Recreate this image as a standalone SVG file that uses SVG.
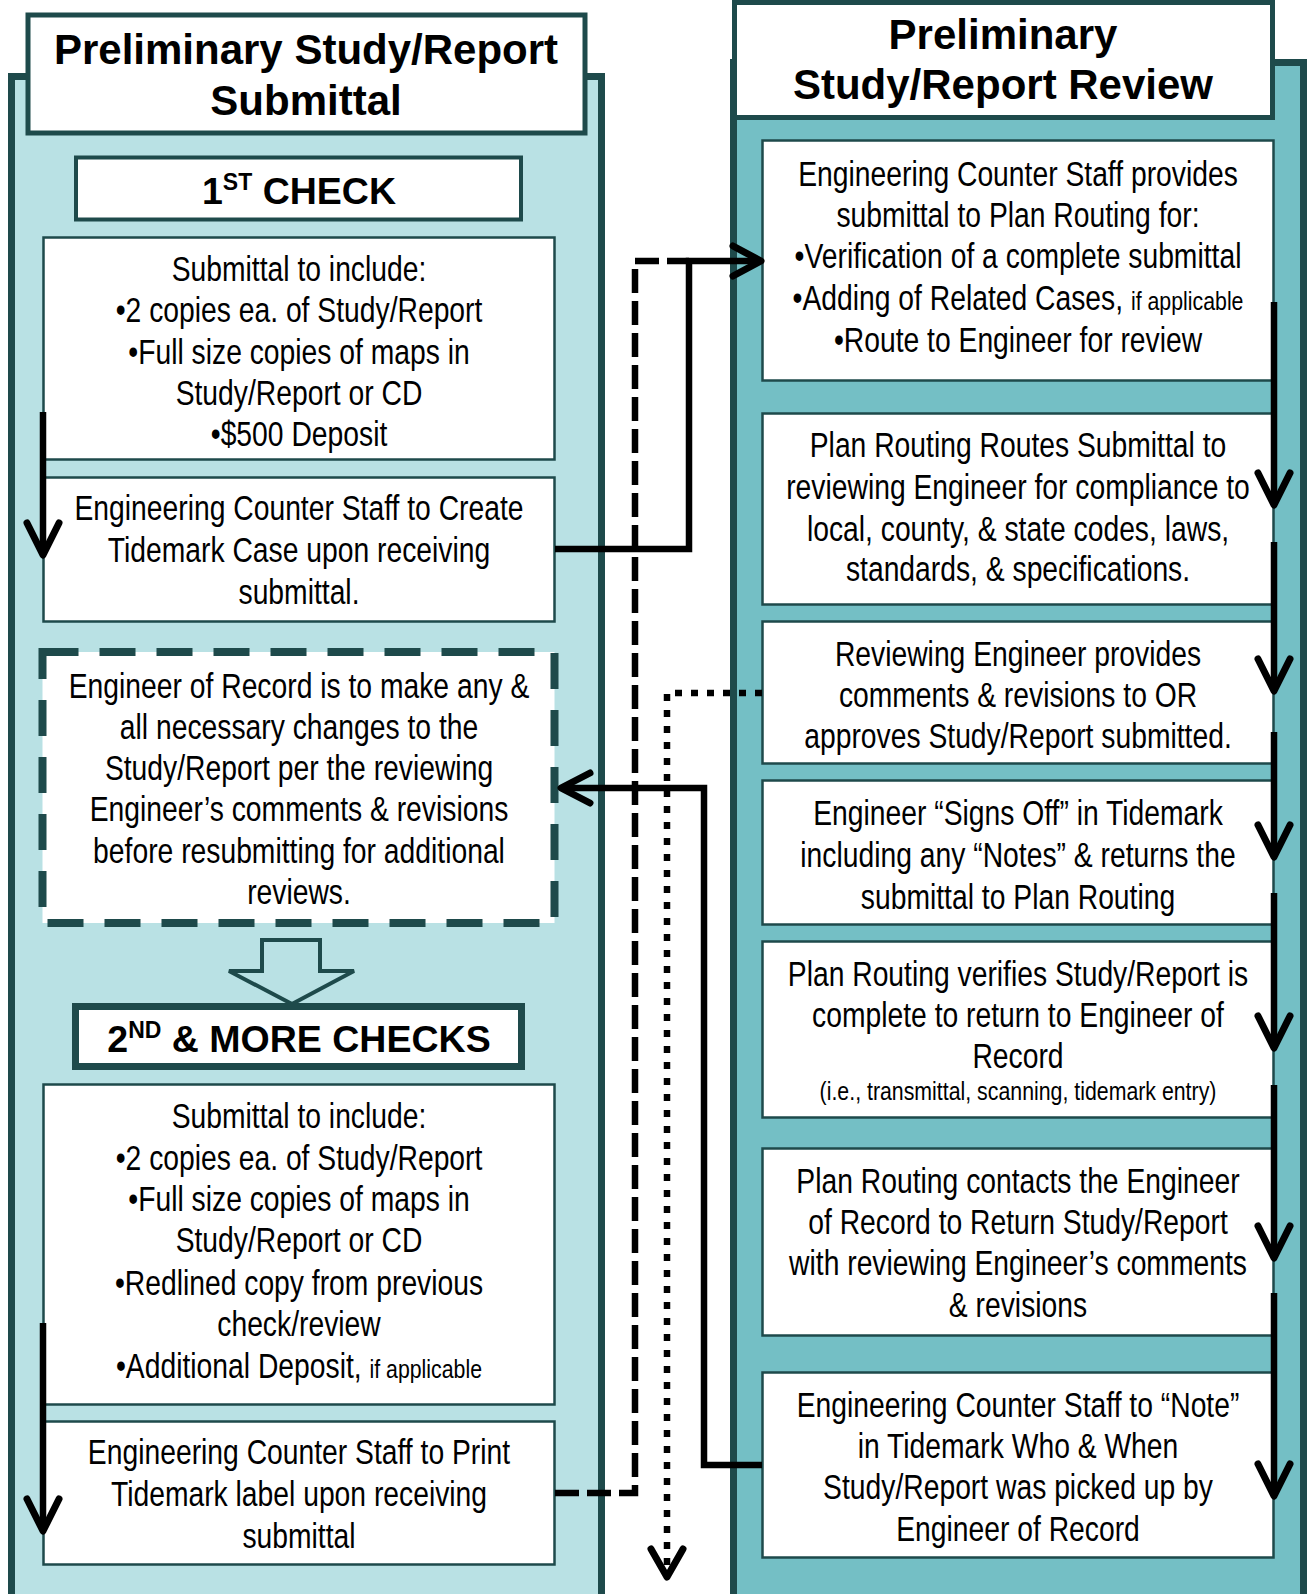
<svg xmlns="http://www.w3.org/2000/svg" width="1307" height="1594" viewBox="0 0 1307 1594">
<defs>
<style>
.t{font-family:"Liberation Sans",Arial,sans-serif;font-size:34.5px;fill:#000;text-anchor:middle}
.s{font-size:26px}
.h{font-family:"Liberation Sans",Arial,sans-serif;font-weight:bold;font-size:42px;fill:#000;text-anchor:middle}
.c{font-family:"Liberation Sans",Arial,sans-serif;font-weight:bold;font-size:37.5px;fill:#000;text-anchor:middle}
.sup{font-size:23px}
.box{fill:#fff;stroke:#1e4a4b;stroke-width:2.5}
.ttl{fill:#fff;stroke:#1e4a4b;stroke-width:5}
.ln{fill:none;stroke:#000;stroke-width:6.5}
.hd{fill:none;stroke:#000;stroke-width:7;stroke-linecap:round;stroke-linejoin:round}
</style>
</defs>
<rect x="0" y="0" width="1307" height="1594" fill="#fff"/>

<g id="left-panel">
<rect x="11.5" y="76.5" width="590" height="1530" fill="#b9e1e4" stroke="#1e4a4b" stroke-width="7"/>
</g>
<g id="right-panel">
<rect x="733.5" y="62.5" width="570" height="1545" fill="#74bfc5" stroke="#1e4a4b" stroke-width="7"/>
</g>

<g id="left-title">
<rect class="ttl" x="28" y="15" width="557" height="118"/>
<text class="h" x="306" y="64">Preliminary Study/Report</text>
<text class="h" x="306" y="115">Submittal</text>
</g>

<g id="right-title">
<rect class="ttl" x="734.5" y="2.5" width="538" height="115"/>
<text class="h" x="1003" y="49">Preliminary</text>
<text class="h" x="1003" y="99">Study/Report Review</text>
</g>

<g id="first-check">
<rect x="76" y="157.5" width="445" height="62" fill="#fff" stroke="#1e4a4b" stroke-width="4"/>
<text class="c" x="299" y="204">1<tspan class="sup" dy="-14">ST</tspan><tspan dy="14"> CHECK</tspan></text>
</g>

<g id="submittal-1">
<rect class="box" x="43.5" y="237.5" width="511" height="222"/>
<g transform="translate(299 0) scale(0.82 1)">
<text class="t" x="0" y="281.5">Submittal to include:</text>
<text class="t" x="0" y="322.5">•2 copies ea. of Study/Report</text>
<text class="t" x="0" y="363.7">•Full size copies of maps in</text>
<text class="t" x="0" y="404.9">Study/Report or CD</text>
<text class="t" x="0" y="446">•$500 Deposit</text>
</g>
</g>

<g id="create-case">
<rect class="box" x="43.5" y="477.5" width="511" height="144"/>
<g transform="translate(299 0) scale(0.82 1)">
<text class="t" x="0" y="520">Engineering Counter Staff to Create</text>
<text class="t" x="0" y="562">Tidemark Case upon receiving</text>
<text class="t" x="0" y="604">submittal.</text>
</g>
</g>

<g id="engineer-changes">
<rect x="42.5" y="652" width="512" height="271" fill="#fff" stroke="#1e4a4b" stroke-width="8" stroke-dasharray="36 21"/>
<g transform="translate(299 0) scale(0.82 1)">
<text class="t" x="0" y="698">Engineer of Record is to make any &amp;</text>
<text class="t" x="0" y="739">all necessary changes to the</text>
<text class="t" x="0" y="780">Study/Report per the reviewing</text>
<text class="t" x="0" y="821">Engineer’s comments &amp; revisions</text>
<text class="t" x="0" y="863">before resubmitting for additional</text>
<text class="t" x="0" y="904">reviews.</text>
</g>
</g>

<g id="block-arrow">
<path d="M262,940 H320 V971 H354 L292,1004 L229,971 H262 Z" fill="#b9e1e4" stroke="#1e4a4b" stroke-width="4"/>
</g>

<g id="second-check">
<rect x="75.5" y="1006.5" width="446" height="60" fill="#fff" stroke="#1e4a4b" stroke-width="7"/>
<text class="c" x="299" y="1052">2<tspan class="sup" dy="-14">ND</tspan><tspan dy="14"> &amp; MORE CHECKS</tspan></text>
</g>

<g id="submittal-2">
<rect class="box" x="43.5" y="1084.5" width="511" height="320"/>
<g transform="translate(299 0) scale(0.82 1)">
<text class="t" x="0" y="1128">Submittal to include:</text>
<text class="t" x="0" y="1170">•2 copies ea. of Study/Report</text>
<text class="t" x="0" y="1211">•Full size copies of maps in</text>
<text class="t" x="0" y="1252">Study/Report or CD</text>
<text class="t" x="0" y="1295">•Redlined copy from previous</text>
<text class="t" x="0" y="1336">check/review</text>
<text class="t" x="0" y="1378">•Additional Deposit, <tspan class="s">if applicable</tspan></text>
</g>
</g>

<g id="print-label">
<rect class="box" x="43.5" y="1421.5" width="511" height="143"/>
<g transform="translate(299 0) scale(0.82 1)">
<text class="t" x="0" y="1464.5">Engineering Counter Staff to Print</text>
<text class="t" x="0" y="1506">Tidemark label upon receiving</text>
<text class="t" x="0" y="1548">submittal</text>
</g>
</g>

<g id="r1">
<rect class="box" x="762.5" y="140.5" width="511" height="240"/>
<g transform="translate(1018 0) scale(0.82 1)">
<text class="t" x="0" y="186">Engineering Counter Staff provides</text>
<text class="t" x="0" y="227">submittal to Plan Routing for:</text>
<text class="t" x="0" y="268">•Verification of a complete submittal</text>
<text class="t" x="0" y="310">•Adding of Related Cases, <tspan class="s">if applicable</tspan></text>
<text class="t" x="0" y="352">•Route to Engineer for review</text>
</g>
</g>

<g id="r2">
<rect class="box" x="762.5" y="413.5" width="511" height="191"/>
<g transform="translate(1018 0) scale(0.82 1)">
<text class="t" x="0" y="457">Plan Routing Routes Submittal to</text>
<text class="t" x="0" y="499">reviewing Engineer for compliance to</text>
<text class="t" x="0" y="541">local, county, &amp; state codes, laws,</text>
<text class="t" x="0" y="581">standards, &amp; specifications.</text>
</g>
</g>

<g id="r3">
<rect class="box" x="762.5" y="621.5" width="511" height="142"/>
<g transform="translate(1018 0) scale(0.82 1)">
<text class="t" x="0" y="666">Reviewing Engineer provides</text>
<text class="t" x="0" y="707">comments &amp; revisions to OR</text>
<text class="t" x="0" y="748">approves Study/Report submitted.</text>
</g>
</g>

<g id="r4">
<rect class="box" x="762.5" y="780.5" width="511" height="144"/>
<g transform="translate(1018 0) scale(0.82 1)">
<text class="t" x="0" y="825">Engineer “Signs Off” in Tidemark</text>
<text class="t" x="0" y="867">including any “Notes” &amp; returns the</text>
<text class="t" x="0" y="909">submittal to Plan Routing</text>
</g>
</g>

<g id="r5">
<rect class="box" x="762.5" y="941.5" width="511" height="176"/>
<g transform="translate(1018 0) scale(0.82 1)">
<text class="t" x="0" y="986">Plan Routing verifies Study/Report is</text>
<text class="t" x="0" y="1027">complete to return to Engineer of</text>
<text class="t" x="0" y="1068">Record</text>
<text class="t s" x="0" y="1100">(i.e., transmittal, scanning, tidemark entry)</text>
</g>
</g>

<g id="r6">
<rect class="box" x="762.5" y="1148.5" width="511" height="187"/>
<g transform="translate(1018 0) scale(0.82 1)">
<text class="t" x="0" y="1193">Plan Routing contacts the Engineer</text>
<text class="t" x="0" y="1234">of Record to Return Study/Report</text>
<text class="t" x="0" y="1275">with reviewing Engineer’s comments</text>
<text class="t" x="0" y="1317">&amp; revisions</text>
</g>
</g>

<g id="r7">
<rect class="box" x="762.5" y="1372.5" width="511" height="185"/>
<g transform="translate(1018 0) scale(0.82 1)">
<text class="t" x="0" y="1417">Engineering Counter Staff to “Note”</text>
<text class="t" x="0" y="1458">in Tidemark Who &amp; When</text>
<text class="t" x="0" y="1499">Study/Report was picked up by</text>
<text class="t" x="0" y="1541">Engineer of Record</text>
</g>
</g>

<g id="connectors">
<polyline class="ln" points="555,1493 635,1493 635,261 689,261" stroke-dasharray="24 8"/>
<polyline class="ln" points="555,549 689,549 689,261 758,261"/>
<polyline class="hd" points="733,246 761,261 733,276"/>
<polyline class="ln" points="762,693 667,693 667,1574" stroke-dasharray="7 9" stroke-width="7"/>
<polyline class="hd" points="651,1549 667,1577 683,1549"/>
<polyline class="ln" points="762,1465 704,1465 704,788 565,788"/>
<polyline class="hd" points="590,773 561,788 590,803"/>
<line class="ln" x1="43" y1="412" x2="43" y2="552"/>
<polyline class="hd" points="27,523 43,555 59,523"/>
<line class="ln" x1="43" y1="1323" x2="43" y2="1528"/>
<polyline class="hd" points="27,1499 43,1531 59,1499"/>
<line class="ln" x1="1274" y1="302" x2="1274" y2="503"/>
<polyline class="hd" points="1258,473 1274,505 1290,473"/>
<line class="ln" x1="1274" y1="542" x2="1274" y2="689"/>
<polyline class="hd" points="1258,659 1274,691 1290,659"/>
<line class="ln" x1="1274" y1="732" x2="1274" y2="855"/>
<polyline class="hd" points="1258,825 1274,857 1290,825"/>
<line class="ln" x1="1274" y1="893" x2="1274" y2="1046"/>
<polyline class="hd" points="1258,1016 1274,1048 1290,1016"/>
<line class="ln" x1="1274" y1="1085" x2="1274" y2="1256"/>
<polyline class="hd" points="1258,1226 1274,1258 1290,1226"/>
<line class="ln" x1="1274" y1="1293" x2="1274" y2="1494"/>
<polyline class="hd" points="1258,1464 1274,1496 1290,1464"/>
</g>
</svg>
